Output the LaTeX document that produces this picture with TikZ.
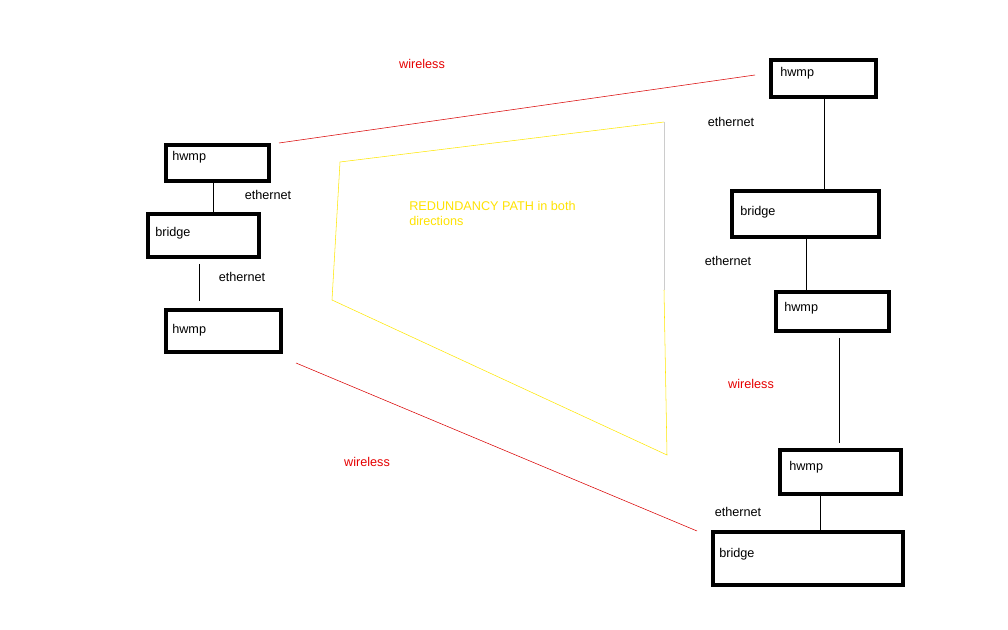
\documentclass[tikz,border=0pt]{standalone}
\usepackage{fontspec}
\setmainfont{Liberation Sans}
\begin{document}
\begin{tikzpicture}[x=0.75pt,y=-0.75pt,font=\fontsize{9.5}{11}\selectfont,
  bx/.style={draw,line width=3pt},
  lb/.style={anchor=west,inner sep=0},
  red/.style={draw=red!85!black},
  wl/.style={text=red!90!black}]
\useasboundingbox (0,0) rectangle (1008,630);
\draw[bx] (166,145) rectangle (269,181); \node[lb] (t1) at (172,157) {hwmp};
\draw[bx] (148,214) rectangle (259,257); \node[lb] (t2) at (155,233) {bridge};
\draw[bx] (166,310) rectangle (281,352); \node[lb] (t3) at (172,330) {hwmp};
\draw[bx] (771,60) rectangle (876,97); \node[lb] (t4) at (780,73) {hwmp};
\draw[bx] (732,191) rectangle (879,237); \node[lb] (t5) at (740,212) {bridge};
\draw[bx] (776,292) rectangle (889,331); \node[lb] (t6) at (784,308) {hwmp};
\draw[bx] (780,450) rectangle (901,494); \node[lb] (t7) at (789,467) {hwmp};
\draw[bx] (713,532) rectangle (903,585); \node[lb] (t8) at (719,554) {bridge};
\coordinate (a1) at (279,143); \coordinate (a2) at (755,75);
\draw[red!85!black] (a1) -- (a2);
\coordinate (b1) at (296,363); \coordinate (b2) at (697,531);
\draw[red!85!black] (b1) -- (b2);
\draw (213,181) -- (213,214);
\draw (199,264) -- (199,301);
\draw (824,97) -- (824,191);
\draw (806,237) -- (806,290);
\draw (839,338) -- (839,443);
\draw (820,494) -- (820,532);
\draw[yellow!90!orange] (664,290) -- (667,455) -- (332,300) -- (340,162) -- (664,122);
\draw[gray!40] (664,122) -- (664,290);
\node[wl] (w1) at (422,64) {wireless};
\node[wl] (w2) at (751,384) {wireless};
\node[wl] (w3) at (367,462) {wireless};
\node (e1) at (268,195) {ethernet};
\node (e2) at (242,277) {ethernet};
\node (e3) at (731,122) {ethernet};
\node (e4) at (728,261) {ethernet};
\node (e5) at (738,512) {ethernet};
\node[lb,text=yellow!85!orange,align=left,anchor=north west] (r) at (409,201) {REDUNDANCY PATH in both\\directions};
\end{tikzpicture}
\end{document}
